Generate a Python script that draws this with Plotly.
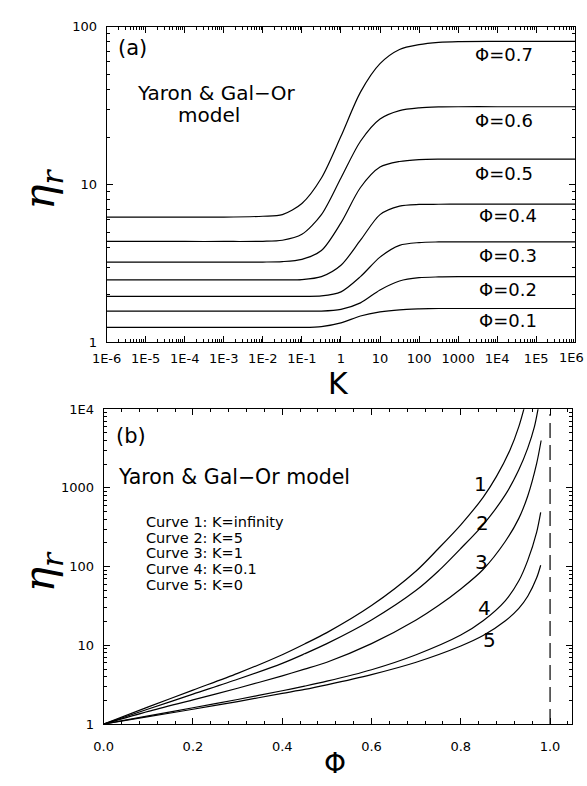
import plotly.graph_objects as go

W, H = 587, 786

# ---------------- Panel (a): eta_r versus K ----------------
K_vals = [1e-6, 1e-5, 1e-4, 1e-3, 1e-2, 0.0316, 0.1, 0.316, 1, 3.16, 10, 31.6,
          100, 316, 1000, 1e4, 1e5, 1e6]
eta_phi07 = [6.21, 6.21, 6.21, 6.22, 6.3, 6.45, 7.59, 11.0, 20.2, 38.5, 58.3, 71.7,
             76.9, 79.5, 80.5, 80.7, 80.7, 80.7]
eta_phi06 = [4.36, 4.36, 4.36, 4.36, 4.37, 4.44, 4.84, 6.45, 11.0, 18.8, 26.0, 29.4,
             30.6, 31.0, 31.1, 31.1, 31.1, 31.1]
eta_phi05 = [3.23, 3.23, 3.23, 3.23, 3.23, 3.25, 3.36, 3.82, 5.72, 9.58, 12.9, 14.0,
             14.4, 14.5, 14.5, 14.5, 14.5, 14.5]
eta_phi04 = [2.49, 2.49, 2.49, 2.49, 2.49, 2.49, 2.50, 2.61, 3.08, 4.44, 6.45, 7.3,
             7.48, 7.5, 7.51, 7.51, 7.51, 7.51]
eta_phi03 = [1.96, 1.96, 1.96, 1.96, 1.96, 1.96, 1.96, 1.97, 2.09, 2.61, 3.47, 4.12,
             4.29, 4.33, 4.34, 4.34, 4.34, 4.34]
eta_phi02 = [1.58, 1.58, 1.58, 1.58, 1.58, 1.58, 1.58, 1.58, 1.62, 1.78, 2.15, 2.45,
             2.57, 2.60, 2.61, 2.61, 2.61, 2.61]
eta_phi01 = [1.245, 1.245, 1.245, 1.245, 1.245, 1.245, 1.245, 1.26, 1.33, 1.47, 1.56, 1.61,
             1.63, 1.64, 1.64, 1.64, 1.64, 1.64]
series_a = [eta_phi07, eta_phi06, eta_phi05, eta_phi04, eta_phi03, eta_phi02, eta_phi01]
labels_a = ["Φ=0.7", "Φ=0.6", "Φ=0.5", "Φ=0.4", "Φ=0.3", "Φ=0.2", "Φ=0.1"]

K_tickvals = [1e-6, 1e-5, 1e-4, 1e-3, 1e-2, 1e-1, 1, 10, 100, 1000, 1e4, 1e5, 1e6]
K_ticktext = ["1E-6", "1E-5", "1E-4", "1E-3", "1E-2", "1E-1", "1", "10", "100",
              "1000", "1E4", "1E5", "1E6"]
eta_a_tickvals = [1, 10, 100]
eta_a_ticktext = ["1", "10", "100"]

# ---------------- Panel (b): eta_r versus phi ----------------
phi_c1 = [0, 0.1, 0.2, 0.3, 0.4, 0.45, 0.5, 0.6, 0.7, 0.75, 0.8, 0.85, 0.88, 0.91, 0.93, 0.945]
eta_c1 = [1, 1.65, 2.7, 4.4, 7.6, 10.4, 14.5, 32, 88, 170, 340, 760, 1400, 3000, 6000, 12000]
phi_c2 = [0, 0.1, 0.2, 0.3, 0.4, 0.45, 0.5, 0.6, 0.7, 0.75, 0.8, 0.85, 0.9, 0.93, 0.95, 0.965, 0.973, 0.978]
eta_c2 = [1, 1.55, 2.4, 3.7, 5.9, 7.8, 10.5, 21, 50, 88, 170, 340, 820, 1700, 3200, 6000, 10000, 15000]
phi_c3 = [0, 0.1, 0.2, 0.3, 0.4, 0.45, 0.5, 0.6, 0.7, 0.75, 0.8, 0.85, 0.9, 0.93, 0.95, 0.97, 0.98]
eta_c3 = [1, 1.45, 2.03, 2.85, 4.1, 4.98, 6.1, 10.5, 21, 32, 52, 92, 210, 410, 790, 2050, 4000]
phi_c4 = [0, 0.1, 0.2, 0.3, 0.4, 0.45, 0.5, 0.6, 0.7, 0.8, 0.85, 0.9, 0.93, 0.95, 0.97, 0.979]
eta_c4 = [1, 1.27, 1.61, 2.05, 2.65, 3.03, 3.5, 4.9, 7.6, 13.5, 20.5, 37, 66, 120, 275, 490]
phi_c5 = [0, 0.1, 0.2, 0.3, 0.4, 0.45, 0.5, 0.6, 0.7, 0.8, 0.85, 0.9, 0.93, 0.95, 0.97, 0.979]
eta_c5 = [1, 1.24, 1.54, 1.93, 2.45, 2.75, 3.15, 4.25, 6.1, 9.8, 13.3, 20.5, 29.5, 42, 72, 104]
series_b = [(phi_c1, eta_c1), (phi_c2, eta_c2), (phi_c3, eta_c3), (phi_c4, eta_c4), (phi_c5, eta_c5)]
curve_numbers = ["1", "2", "3", "4", "5"]
legend_lines = ["Curve 1: K=infinity", "Curve 2: K=5", "Curve 3: K=1",
                "Curve 4: K=0.1", "Curve 5: K=0"]
phi_limit = 1.0

phi_tickvals = [0, 0.2, 0.4, 0.6, 0.8, 1.0]
phi_ticktext = ["0.0", "0.2", "0.4", "0.6", "0.8", "1.0"]
eta_b_tickvals = [1, 10, 100, 1000, 1e4]
eta_b_ticktext = ["1", "10", "100", "1000", "1E4"]

# ---------------- Figure ----------------
FONT = "DejaVu Sans"
fig = go.Figure()

for ys in series_a:
    fig.add_trace(go.Scatter(x=K_vals, y=ys, mode="lines", xaxis="x", yaxis="y",
                             line=dict(color="black", width=1.2, shape="spline", smoothing=0.8),
                             showlegend=False, hoverinfo="skip"))
for xs, ys in series_b:
    fig.add_trace(go.Scatter(x=xs, y=ys, mode="lines", xaxis="x2", yaxis="y2",
                             line=dict(color="black", width=1.2, shape="spline", smoothing=0.8),
                             showlegend=False, hoverinfo="skip"))


def log_minor(lo, hi):
    vals = []
    for e in range(lo, hi):
        for m in range(2, 10):
            vals.append(m * 10.0 ** e)
    return vals


def px(x):
    return x / W


def py(y):
    return 1 - y / H


axis_common = dict(showline=True, linecolor="black", linewidth=1, mirror="allticks",
                   ticks="inside", ticklen=6, tickwidth=1, tickcolor="black",
                   showgrid=False, zeroline=False,
                   tickfont=dict(family=FONT, size=13, color="black"))

# the last K label sits at the page edge; it is drawn as a right-anchored text below
K_axis_text = K_ticktext[:-1] + [""]

fig.update_layout(
    width=W, height=H, autosize=False,
    margin=dict(l=0, r=0, t=0, b=0),
    paper_bgcolor="white", plot_bgcolor="white",
    showlegend=False,
    xaxis=dict(type="log", range=[-6.0002, 6.0002], domain=[px(94), px(575)], anchor="y",
               tickmode="array", tickvals=K_tickvals, ticktext=K_axis_text,
               ticklabelstandoff=4,
               minor=dict(tickmode="array", tickvals=log_minor(-6, 6), ticks="inside",
                          ticklen=3, tickcolor="black", showgrid=False),
               **axis_common),
    yaxis=dict(type="log", range=[-0.0002, 2.0002], domain=[py(342), py(20)], anchor="x",
               tickmode="array", tickvals=eta_a_tickvals, ticktext=eta_a_ticktext,
               ticklabelstandoff=6,
               minor=dict(tickmode="array", tickvals=log_minor(0, 2), ticks="inside",
                          ticklen=3, tickcolor="black", showgrid=False),
               **axis_common),
    xaxis2=dict(type="linear", range=[0, 1.05], domain=[px(91), px(572)], anchor="y2",
                tickmode="array", tickvals=phi_tickvals, ticktext=phi_ticktext,
                ticklabelstandoff=10,
                minor=dict(tick0=0, dtick=0.04, ticks="inside", ticklen=3,
                           tickcolor="black", showgrid=False),
                **axis_common),
    yaxis2=dict(type="log", range=[-0.0002, 4.0002], domain=[py(731), py(410)], anchor="x2",
                tickmode="array", tickvals=eta_b_tickvals, ticktext=eta_b_ticktext,
                ticklabelstandoff=6,
                minor=dict(tickmode="array", tickvals=log_minor(0, 4), ticks="inside",
                           ticklen=3, tickcolor="black", showgrid=False),
                **axis_common),
)

fig.add_shape(type="line", xref="x2", yref="y2 domain", x0=phi_limit, x1=phi_limit,
              y0=0, y1=0.985, line=dict(color="black", width=1.2, dash="15px,7px"))

ann = []


def text(x, y, s, size, xanchor="center", angle=0, family=FONT, style="normal"):
    ann.append(dict(x=px(x), y=py(y), xref="paper", yref="paper", text=s,
                    showarrow=False, xanchor=xanchor, yanchor="middle", textangle=angle,
                    font=dict(family=family, size=size, color="black", style=style)))


# panel (a) texts
text(121, 42, "(a)", 21)
text(207, 88, "Yaron & Gal−Or", 20)
text(199, 110, "model", 20)
label_pos_a = [(502, 48), (502, 116), (502, 170), (506, 213), (506, 253), (506, 288), (506, 320)]
for (lx, ly), s in zip(label_pos_a, labels_a):
    text(lx, ly, s, 18)
text(586, 357, K_ticktext[-1], 13, xanchor="right")
text(332, 384, "K", 30)
text(28, 186, "η<sub>r</sub>", 42, angle=-90, family="DejaVu Serif", style="italic")

# panel (b) texts
text(119, 437, "(b)", 21)
text(225, 479, "Yaron & Gal−Or model", 20.5)
for i, s in enumerate(legend_lines):
    text(132, 525 + i * 16, s, 14.5, xanchor="left")
num_pos = [(478, 486), (480, 526), (479, 566), (482, 613), (487, 645)]
for (nx, ny), s in zip(num_pos, curve_numbers):
    text(nx, ny, s, 20)
text(328, 771, "Φ", 28)
text(28, 576, "η<sub>r</sub>", 42, angle=-90, family="DejaVu Serif", style="italic")

fig.update_layout(annotations=ann)
fig.write_html("out.html")
